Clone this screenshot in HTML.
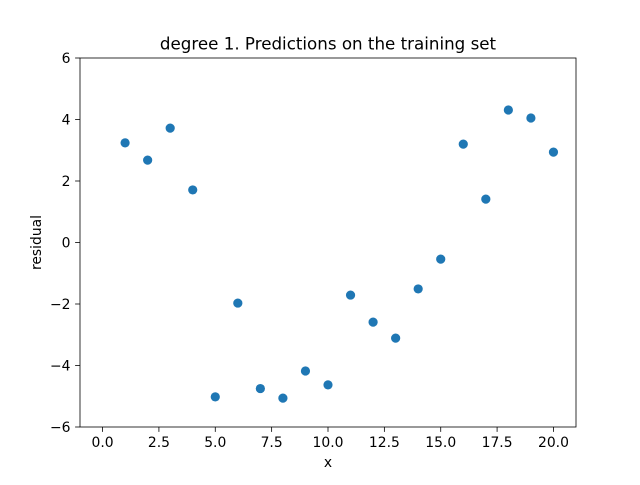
<!DOCTYPE html>
<html><head><meta charset="utf-8"><style>
body{margin:0;background:#fff;}
svg text{font-family:"DejaVu Sans","Liberation Sans",sans-serif;fill:#000;}
</style></head><body>
<svg id="chart" width="640" height="480" xmlns="http://www.w3.org/2000/svg"></svg>
<script>
const xValues=[1,2,3,4,5,6,7,8,9,10,11,12,13,14,15,16,17,18,19,20];
const residuals=[3.24,2.68,3.72,1.71,-5.02,-1.97,-4.75,-5.06,-4.18,-4.63,-1.71,-2.59,-3.11,-1.51,-0.54,3.20,1.41,4.31,4.05,2.94];
const xTicks=[0,2.5,5,7.5,10,12.5,15,17.5,20];
const xTickLabels=["0.0","2.5","5.0","7.5","10.0","12.5","15.0","17.5","20.0"];
const yTicks=[-6,-4,-2,0,2,4,6];
const yTickLabels=["−6","−4","−2","0","2","4","6"];

const svg=document.getElementById('chart');
const NS="http://www.w3.org/2000/svg";
const L=80,R=576,T=58,B=427;
const xMin=-1,xMax=21,yMin=-6,yMax=6;
const sx=v=>L+(v-xMin)/(xMax-xMin)*(R-L);
const sy=v=>B-(v-yMin)/(yMax-yMin)*(B-T);
function mk(tag,attrs,text){const e=document.createElementNS(NS,tag);for(const k in attrs)e.setAttribute(k,attrs[k]);if(text!==undefined)e.textContent=text;svg.appendChild(e);return e;}

const frame=mk('rect',{x:L,y:T,width:R-L,height:B-T,fill:'none',stroke:'#000','stroke-width':0.8});



xTicks.forEach((v,i)=>{
  const t=mk('line',{x1:sx(v),x2:sx(v),y1:B,y2:B+4.9,stroke:'#000','stroke-width':0.8});
  
  
  const l=mk('text',{x:sx(v),y:B+20,'text-anchor':'middle','font-size':13.9},xTickLabels[i]);
  
  
});
yTicks.forEach((v,i)=>{
  const t=mk('line',{x1:L-4.9,x2:L,y1:sy(v),y2:sy(v),stroke:'#000','stroke-width':0.8});
  
  
  const l=mk('text',{x:L-9.5,y:sy(v)+5,'text-anchor':'end','font-size':13.9},yTickLabels[i]);
  
  
});
xValues.forEach((v,i)=>{
  const c=mk('circle',{cx:sx(v),cy:sy(residuals[i]),r:4.6,fill:'#1f77b4'});
  
  
});
const title=mk('text',{x:(L+R)/2,y:T-8.5,'text-anchor':'middle','font-size':16.7},'degree 1. Predictions on the training set');


const xt=mk('text',{x:(L+R)/2,y:467,'text-anchor':'middle','font-size':13.9},'x');


const yt=mk('text',{x:0,y:0,'text-anchor':'middle','font-size':13.9,transform:`translate(41,${(T+B)/2}) rotate(-90)`},'residual');


</script>
</body></html>
